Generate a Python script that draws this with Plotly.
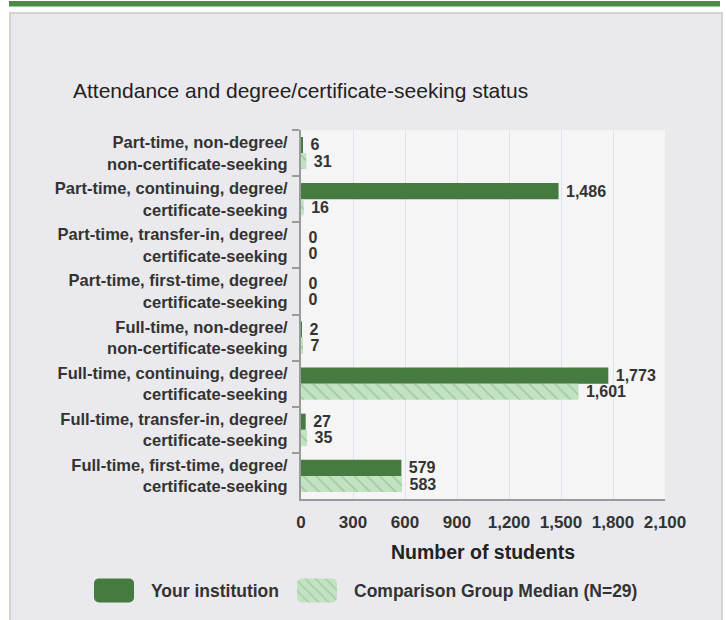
import plotly.graph_objects as go

categories = [
    "Part-time, non-degree/<br>non-certificate-seeking",
    "Part-time, continuing, degree/<br>certificate-seeking",
    "Part-time, transfer-in, degree/<br>certificate-seeking",
    "Part-time, first-time, degree/<br>certificate-seeking",
    "Full-time, non-degree/<br>non-certificate-seeking",
    "Full-time, continuing, degree/<br>certificate-seeking",
    "Full-time, transfer-in, degree/<br>certificate-seeking",
    "Full-time, first-time, degree/<br>certificate-seeking",
]
your_institution = [6, 1486, 0, 0, 2, 1773, 27, 579]
comparison_median = [31, 16, 0, 0, 7, 1601, 35, 583]
x_ticks = [0, 300, 600, 900, 1200, 1500, 1800, 2100]

FONT = "Liberation Sans, Arial, sans-serif"
DARK = "#457a40"
LIGHT = "#c2e2c2"
TXT = "#333333"

fig = go.Figure()
fig.add_trace(go.Bar(
    y=categories, x=your_institution, orientation="h", name="Your institution",
    marker=dict(color=DARK, line=dict(width=0)),
    texttemplate="\u00a0%{x:,}", textposition="outside", cliponaxis=False,
    constraintext="none",
    textfont=dict(family=FONT, size=16, color=TXT, weight="bold"),
))
fig.add_trace(go.Bar(
    y=categories, x=comparison_median, orientation="h",
    name="Comparison Group Median (N=29)",
    marker=dict(color=LIGHT, line=dict(width=0),
                pattern=dict(shape="\\", fgcolor="#6aa86a", bgcolor=LIGHT,
                             size=9, solidity=0.15)),
    texttemplate="\u00a0%{x:,}", textposition="outside", cliponaxis=False,
    constraintext="none",
    textfont=dict(family=FONT, size=16, color=TXT, weight="bold"),
))

# page decoration (panel, stripe) and plot area background
L, R, T, B = 301, 61, 130, 115
W, H = 726, 620
pw, ph = W - L - R, H - T - B
def px(x):
    return (x - L) / pw
def py(y):
    return (H - B - y) / ph

shapes = [
    dict(type="rect", xref="paper", yref="paper", layer="below",
         x0=px(10), x1=px(722), y0=py(11), y1=py(640),
         fillcolor="#eaeaee", line=dict(color="#d3d3d3", width=2)),
    dict(type="rect", xref="paper", yref="paper", layer="below",
         x0=0, x1=1, y0=0, y1=1, fillcolor="#f5f5f5", line=dict(width=0)),
    dict(type="rect", xref="paper", yref="paper", layer="below",
         x0=px(9), x1=px(720), y0=py(4.5), y1=py(-1),
         fillcolor="#4e8a4a", line=dict(width=0)),
]

fig.update_layout(
    width=W, height=H,
    margin=dict(l=L, r=R, t=T, b=B, pad=0),
    paper_bgcolor="white", plot_bgcolor="rgba(0,0,0,0)",
    barmode="group", bargap=0.3, bargroupgap=0,
    font=dict(family=FONT, color=TXT),
    shapes=shapes,
    showlegend=True,
    legend=dict(orientation="h", x=px(81), xanchor="left", y=py(598), yanchor="middle",
                font=dict(family=FONT, size=17.5, color=TXT, weight="bold"),
                bgcolor="rgba(0,0,0,0)", itemwidth=60, traceorder="normal"),
    annotations=[dict(text="Attendance and degree/certificate-seeking status",
                      xref="paper", yref="paper", x=px(71), y=py(90),
                      xanchor="left", yanchor="middle", showarrow=False,
                      font=dict(family=FONT, size=21, color="#222222"))],
)
fig.update_xaxes(
    range=[0, 2100], tickvals=x_ticks, tickformat=",",
    showgrid=True, gridcolor="#dbe3ee", gridwidth=1, zeroline=False,
    showline=True, linecolor="#9a9a9a", linewidth=2,
    ticks="", ticklabelstandoff=7,
    tickfont=dict(family=FONT, size=17, color=TXT, weight="bold"),
    title=dict(text="Number of students", standoff=14,
               font=dict(family=FONT, size=19.5, color="#222222", weight="bold")),
)
fig.update_yaxes(
    autorange="reversed", categoryorder="array", categoryarray=categories,
    showline=True, linecolor="#9a9a9a", linewidth=2,
    ticks="outside", tickson="boundaries", ticklen=7, tickcolor="#9a9a9a", tickwidth=2,
    ticklabelstandoff=8,
    showgrid=False,
    tickfont=dict(family=FONT, size=16.5, color=TXT, weight="bold"),
)

post = """
document.body.style.margin = '0';
document.body.style.overflow = 'hidden';
var rr = 'M-15,-12H15A5,5 0 0 1 20,-7V7A5,5 0 0 1 15,12H-15A5,5 0 0 1 -20,7V-7A5,5 0 0 1 -15,-12Z';
document.querySelectorAll('.legendpoints path').forEach(function(p){
  p.setAttribute('d', rr);
  p.setAttribute('transform', 'translate(33,0)');
});
"""
fig.write_html("out.html", post_script=post, config={"displayModeBar": False})
